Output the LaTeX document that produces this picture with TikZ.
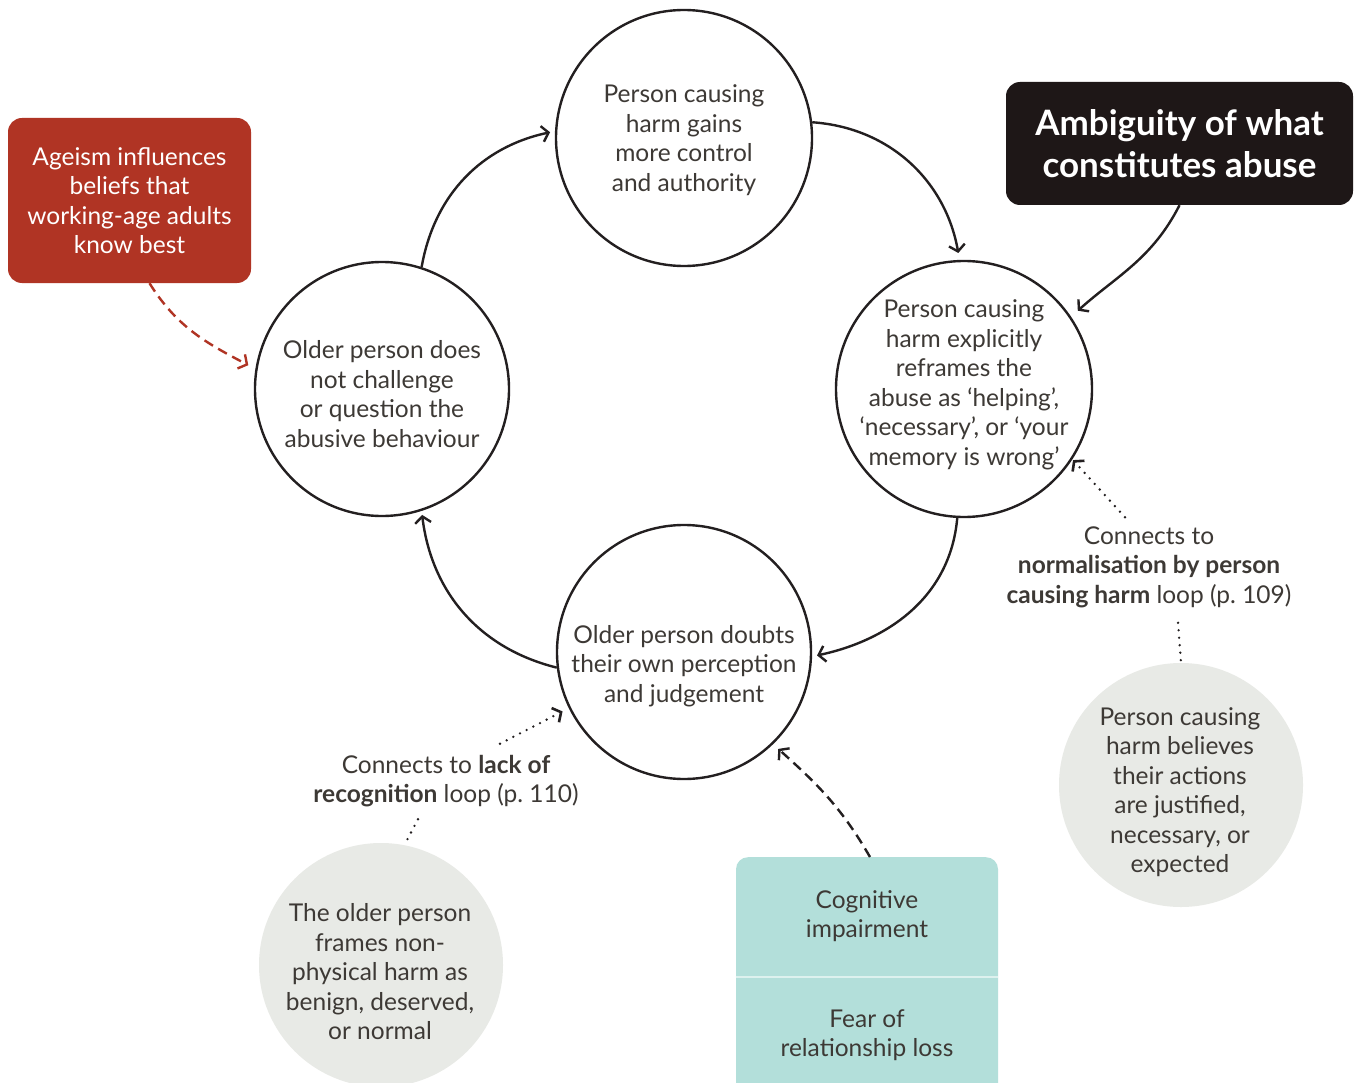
\documentclass[tikz,border=0pt]{standalone}
\usepackage{fontspec}
\setmainfont{Lato}
\usetikzlibrary{arrows.meta}

\definecolor{ink}{HTML}{231F20}
\definecolor{txt}{HTML}{3D3935}
\definecolor{rust}{HTML}{B03424}
\definecolor{night}{HTML}{1E1717}
\definecolor{mint}{HTML}{B3DFDA}
\definecolor{mist}{HTML}{E8EAE6}

\begin{document}
\begin{tikzpicture}[x=1pt,y=1pt,
  every node/.style={font=\fontsize{24.5}{29.5}\selectfont, text=txt, align=center, inner sep=0pt},
  loopcirc/.style={circle, draw=ink, line width=2.4pt, fill=white, minimum size=#1},
  loopcirc/.default=256pt,
  factor/.style={circle, fill=mist, minimum size=244pt},
  tip/.style={-{Straight Barb[length=6.5pt,width=16pt]}},
  flow/.style={draw=ink, line width=2.4pt, tip},
  dashflow/.style={line width=2.4pt, tip, dash pattern=on 10pt off 6pt},
  dotflow/.style={draw=ink, line width=2.6pt, line cap=round, dash pattern=on 0pt off 7.5pt},
]
\useasboundingbox (0,0) rectangle (1356,-1083);
\fill[white] (0,0) rectangle (1356,-1083);

% main loop
\node[loopcirc] (top) at (684,-138) {};
\node[loopcirc] (rgt) at (964,-389) {};
\node[loopcirc=254pt] (bot) at (684,-652) {};
\node[loopcirc=254pt] (lft) at (382,-389) {};

\node (toptxt) at (684,-140) {Person causing\\harm gains\\more control\\and authority};
\node (rgttxt) at (964,-385) {Person causing\\harm explicitly\\reframes the\\abuse as ‘helping’,\\‘necessary’, or ‘your\\memory is wrong’};
\node (bottxt) at (684,-666) {Older person doubts\\their own perception\\and judgement};
\node (lfttxt) at (382,-394) {Older person does\\not challenge\\or question the\\abusive behaviour};

% influences
\node[fill=rust, rounded corners=14pt, minimum width=243pt, minimum height=165pt, text=white] (ageism) at (129.5,-200.5) {Ageism influences\\beliefs that\\working-age adults\\know best};
\node[fill=night, rounded corners=14pt, minimum width=347pt, minimum height=123pt, text=white,
      font=\fontsize{35}{42}\selectfont\bfseries] (amb) at (1179.5,-143.5) {Ambiguity of what\\constitutes abuse};

% connected loops
\node[factor] (grayR) at (1181,-785) {};
\node (grayRtxt) at (1180,-792) {Person causing\\harm believes\\their actions\\are justified,\\necessary, or\\expected};
\node[factor] (grayL) at (381,-965) {};
\node (grayLtxt) at (380,-972) {The older person\\frames non-\\physical harm as\\benign, deserved,\\or normal};

\node (lblR) at (1149,-567) {Connects to\\\textbf{normalisation by person}\\\textbf{causing harm} loop (p.~109)};
\node (lblL) at (446,-781) {Connects to \textbf{lack of}\\\textbf{recognition} loop (p.~110)};

% contributing conditions
\node[fill=mint, rounded corners=12pt, minimum width=262pt, minimum height=250pt, anchor=north] (mintbox) at (867,-857) {};
\draw[white!55!mint, line width=1.5pt] (mintbox.west |- 0,-977) -- (mintbox.east |- 0,-977);
\node (cog) at (867,-916) {Cognitive\\impairment};
\node (fear) at (867,-1035) {Fear of\\relationship loss};

% loop arrows
\draw[flow, shorten >=7pt] (top.7) to[out=-4, in=100] (rgt.92);
\draw[flow, shorten >=5pt] (rgt.-93) to[out=-95, in=12] (bot.-2);
\draw[flow, shorten >=4pt] (bot.187) to[out=166, in=-83] (lft.-72);
\draw[flow, shorten >=5pt] (lft.72) to[out=80, in=192] (top.177);

% external influences
\draw[flow, shorten >=9pt] (amb.south) to[out=-117, in=42] (rgt.34);
\draw[dashflow, draw=rust, shorten >=8pt] ([xshift=20pt]ageism.south) to[out=-58, in=152] (lft.171);
\draw[dashflow, draw=ink, shorten >=7pt] ([xshift=3pt]mintbox.north) to[out=120, in=-42] (bot.-46);

% links to other loops
\draw[dotflow, tip, shorten >=1pt] ([xshift=-24pt,yshift=9pt]lblR.north) -- (rgt.-33);
\draw[dotflow] ([xshift=29pt,yshift=-15pt]lblR.south) -- (grayR.north);
\draw[dotflow, tip, shorten >=7pt] ([xshift=54pt,yshift=11pt]lblL.north) -- (bot.206);
\draw[dotflow] ([xshift=-28pt,yshift=-12pt]lblL.south) -- (grayL.79);
\end{tikzpicture}
\end{document}
